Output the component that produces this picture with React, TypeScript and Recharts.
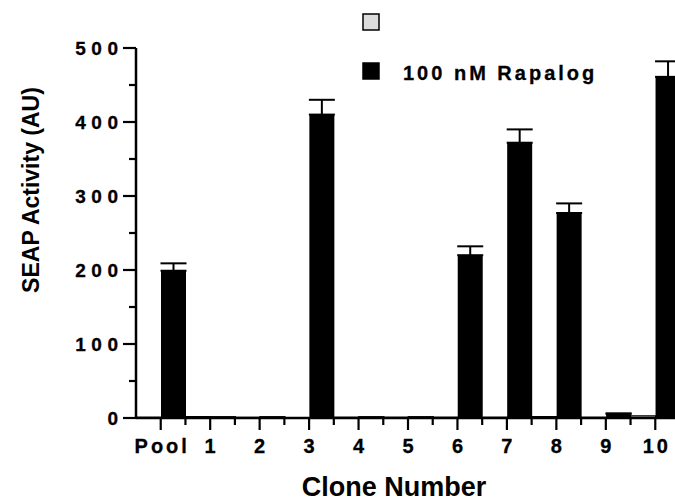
import React from "react";
import { BarChart, Bar, XAxis, YAxis, ErrorBar } from "recharts";

const categories = ["Pool", "1", "2", "3", "4", "5", "6", "7", "8", "9", "10"];
const controlValues = [1, 2, 1, 0.5, 1, 1, 1, 1, 2, 1, 3];
const rapalogValues = [199, 1, 1, 410, 1, 1, 220, 372, 277, 6, 461];
const rapalogErrors = [10, 0, 0, 20, 0, 0, 12, 18, 13, 0, 21];
const seriesNames = ["", "100 nM Rapalog"];
const yTicks = [0, 50, 100, 150, 200, 250, 300, 350, 400, 450, 500];

const data = categories.map((c, i) => ({
  name: c,
  control: controlValues[i],
  rapalog: rapalogValues[i],
  err: [0, rapalogErrors[i]],
}));

const FONT = "'Liberation Sans', Arial, Helvetica, sans-serif";
const W = 690;
const H = 503;
const M = { top: 48, right: 10, left: 0, bottom: 0 };
const Y_AXIS_W = 136;
const X_AXIS_H = 85;
const PLOT_LEFT = M.left + Y_AXIS_W;
const PLOT_RIGHT = W - M.right;
const BAND = (PLOT_RIGHT - PLOT_LEFT) / categories.length;

const YTick = (props: any) => {
  const { x, y, payload } = props;
  const major = payload.value % 100 === 0;
  return (
    <g>
      <line x1={x - (major ? 13 : 7)} x2={x} y1={y} y2={y} stroke="#000" strokeWidth={2.2} />
      {major && (
        <text
          x={x - 12.5}
          y={y + 7}
          textAnchor="end"
          fontFamily={FONT}
          fontWeight="bold"
          fontSize={19}
          letterSpacing={5.5}
          stroke="#000"
          strokeWidth={0.3}
          fill="#000"
        >
          {payload.value}
        </text>
      )}
    </g>
  );
};

const XTick = (props: any) => {
  const { x, y, payload } = props;
  return (
    <g>
      <line x1={x} x2={x} y1={y} y2={y + 12} stroke="#000" strokeWidth={2.2} />
      <line x1={x + BAND / 2} x2={x + BAND / 2} y1={y} y2={y + 7} stroke="#000" strokeWidth={2.2} />
      <text
        x={x + 1.5}
        y={y + 35}
        textAnchor="middle"
        fontFamily={FONT}
        fontWeight="bold"
        fontSize={20}
        letterSpacing={3}
        stroke="#000"
        strokeWidth={0.3}
        fill="#000"
      >
        {payload.value}
      </text>
    </g>
  );
};

const legendColors = ["#dcdcdc", "#000000"];

export default function App() {
  return (
    <div style={{ position: "absolute", left: 0, top: 0, width: 675, height: 503, overflow: "hidden", background: "#fff" }}>
      <BarChart
        width={W}
        height={H}
        data={data}
        margin={M}
        barCategoryGap={0}
        barGap={0}
      >
        <XAxis
          dataKey="name"
          height={X_AXIS_H}
          tickSize={0}
          tickMargin={0}
          tick={<XTick />}
          axisLine={{ stroke: "#000", strokeWidth: 2.5 }}
          tickLine={false}
          interval={0}
        />
        <YAxis
          width={Y_AXIS_W}
          domain={[0, 500]}
          ticks={yTicks}
          interval={0}
          tickSize={0}
          tickMargin={0}
          tick={<YTick />}
          axisLine={{ stroke: "#000", strokeWidth: 2.5 }}
          tickLine={false}
        />
        <Bar dataKey="control" name={seriesNames[0]} fill={legendColors[0]} stroke="#000" strokeWidth={1.2} isAnimationActive={false} />
        <Bar dataKey="rapalog" name={seriesNames[1]} fill={legendColors[1]} isAnimationActive={false}>
          <ErrorBar dataKey="err" width={13} stroke="#000" strokeWidth={2} direction="y" />
        </Bar>
        <text
          x={31}
          y={190}
          transform="rotate(-90 31 190)"
          textAnchor="middle"
          dominantBaseline="central"
          fontFamily={FONT}
          fontWeight="bold"
          fontSize={23}
          fill="#000"
        >
          SEAP Activity (AU)
        </text>
        <text
          x={394}
          y={496}
          textAnchor="middle"
          fontFamily={FONT}
          fontWeight="bold"
          fontSize={27}
          fill="#000"
        >
          Clone Number
        </text>
        {seriesNames.map((n, i) => (
          <g key={i}>
            <rect x={363} y={14 + i * 49} width={16} height={16} fill={legendColors[i]} stroke="#000" strokeWidth={1.5} />
            <text x={403} y={80 - (1 - i) * 49} fontFamily={FONT} fontWeight="bold" fontSize={20} letterSpacing={3} stroke="#000" strokeWidth={0.3} fill="#000">
              {n}
            </text>
          </g>
        ))}
      </BarChart>
    </div>
  );
}
